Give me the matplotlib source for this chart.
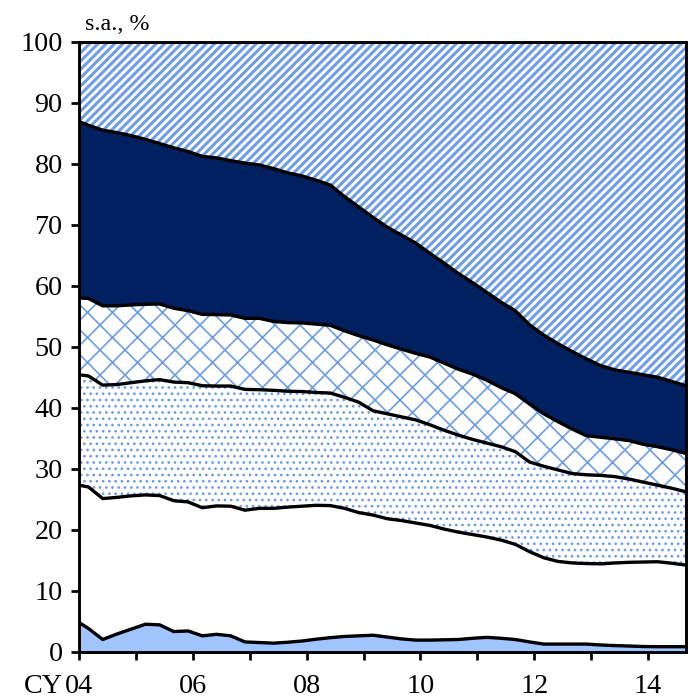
import numpy as np
import matplotlib
matplotlib.use('Agg')
import matplotlib.pyplot as plt

# quarter-end dates (Mar 2004 .. Sep 2014), plus the left edge of the axis
dates = [2004.0] + [2004 + 2/12 + 0.25*k for k in range(43)]

# cumulative levels (s.a., %), bottom to top
lvl_1 = [4.8, 3.8, 2.0, 2.9, 3.7, 4.5, 4.4, 3.3, 3.4, 2.6, 2.85, 2.6, 1.6, 1.5, 1.4,
         1.55, 1.75, 2.05, 2.3, 2.5, 2.6, 2.7, 2.4, 2.1, 1.9, 1.9, 1.95, 2.0, 2.2, 2.35,
         2.2, 2.0, 1.6, 1.25, 1.25, 1.25, 1.25, 1.1, 1.0, 0.93, 0.85, 0.82, 0.82, 0.82]
lvl_2 = [27.3, 27.0, 25.1, 25.3, 25.55, 25.7, 25.6, 24.75, 24.55, 23.6, 23.9, 23.85,
         23.2, 23.5, 23.5, 23.7, 23.85, 24.0, 23.95, 23.5, 22.8, 22.4, 21.8, 21.5, 21.1,
         20.7, 20.1, 19.6, 19.2, 18.8, 18.3, 17.6, 16.4, 15.4, 14.8, 14.55, 14.45, 14.4,
         14.55, 14.65, 14.7, 14.75, 14.5, 14.2]
lvl_3 = [45.4, 45.2, 43.7, 43.8, 44.1, 44.4, 44.6, 44.2, 44.1, 43.6, 43.55, 43.55,
         43.0, 42.95, 42.85, 42.7, 42.65, 42.5, 42.4, 41.7, 40.9, 39.5, 39.0, 38.5, 38.0,
         37.2, 36.3, 35.5, 34.8, 34.2, 33.6, 32.8, 31.1, 30.4, 29.8, 29.2, 29.0, 28.9,
         28.7, 28.3, 27.8, 27.3, 26.8, 26.2]
lvl_4 = [58.0, 57.9, 56.7, 56.7, 56.85, 56.95, 57.0, 56.3, 55.9, 55.3, 55.25, 55.2,
         54.65, 54.65, 54.15, 53.95, 53.9, 53.7, 53.5, 52.6, 51.8, 51.1, 50.3, 49.6, 48.9,
         48.3, 47.3, 46.3, 45.5, 44.5, 43.3, 42.3, 40.6, 39.0, 37.7, 36.5, 35.4, 35.15,
         34.9, 34.6, 34.0, 33.6, 33.1, 32.5]
lvl_5 = [86.9, 86.3, 85.5, 85.1, 84.6, 84.0, 83.3, 82.6, 82.0, 81.2, 80.95, 80.5,
         80.1, 79.8, 79.2, 78.5, 78.0, 77.3, 76.5, 74.6, 72.9, 71.2, 69.6, 68.3, 67.0,
         65.3, 63.7, 62.0, 60.5, 58.9, 57.3, 55.9, 53.6, 51.9, 50.5, 49.2, 48.0, 46.9,
         46.2, 45.8, 45.4, 45.0, 44.3, 43.6]
lvl_top = [100] * len(dates)

years = list(range(2004, 2015))
year_labels = ['04', '', '06', '', '08', '', '10', '', '12', '', '14']

hatch_blue = '#6c9de9'
plt.rcParams['font.family'] = ['Liberation Serif', 'DejaVu Serif']
plt.rcParams['hatch.color'] = hatch_blue

fig = plt.figure(figsize=(694/75, 700/75), dpi=75)
ax = fig.add_axes([79/694, 1 - 651.7/700, 607/694, 610/700])

x = np.array(dates)
# (lower, upper, face, hatch, hatch line width)
bands = [
    (np.zeros(len(x)), lvl_1, '#a0c4ff', None, 1.0),
    (lvl_1, lvl_2, 'white', None, 1.0),
    (lvl_2, lvl_3, 'white', '..', 1.4),
    (lvl_3, lvl_4, 'white', 'x', 1.6),
    (lvl_4, lvl_5, '#002060', None, 1.0),
    (lvl_5, lvl_top, 'white', '///', 2.9),
]
for lo, hi, fc, h, hlw in bands:
    with plt.rc_context({'hatch.linewidth': hlw}):
        if h:
            ax.fill_between(x, lo, hi, facecolor=fc, edgecolor=hatch_blue, hatch=h,
                            linewidth=0, zorder=1)
        else:
            ax.fill_between(x, lo, hi, facecolor=fc, edgecolor=fc, linewidth=0,
                            zorder=1)

for lv in [lvl_1, lvl_2, lvl_3, lvl_4, lvl_5]:
    ax.plot(x, lv, color='black', lw=3.2, solid_joinstyle='round', zorder=3)

ax.set_xlim(2004, 2014 + 8/12)
ax.set_ylim(0, 100)
ax.set_yticks(range(0, 101, 10))
ax.set_xticks(years)
ax.set_xticklabels(year_labels)

for s in ax.spines.values():
    s.set_linewidth(2.8)
    s.set_zorder(5)
ax.tick_params(axis='both', direction='out', length=7.7, width=2.6, colors='black')
ax.tick_params(axis='y', pad=8, labelsize=27)
ax.tick_params(axis='x', pad=9, labelsize=27)
for lab in ax.get_xticklabels():
    lab.set_verticalalignment('baseline')
    lab.set_y(-0.039)

fig.text(63/694, 1 - 693/700, 'CY', ha='right', va='baseline', fontsize=27)
fig.text(85/694, 1 - 29.5/700, 's.a., %', ha='left', va='baseline', fontsize=23)

fig.savefig('out.png', dpi=75)
